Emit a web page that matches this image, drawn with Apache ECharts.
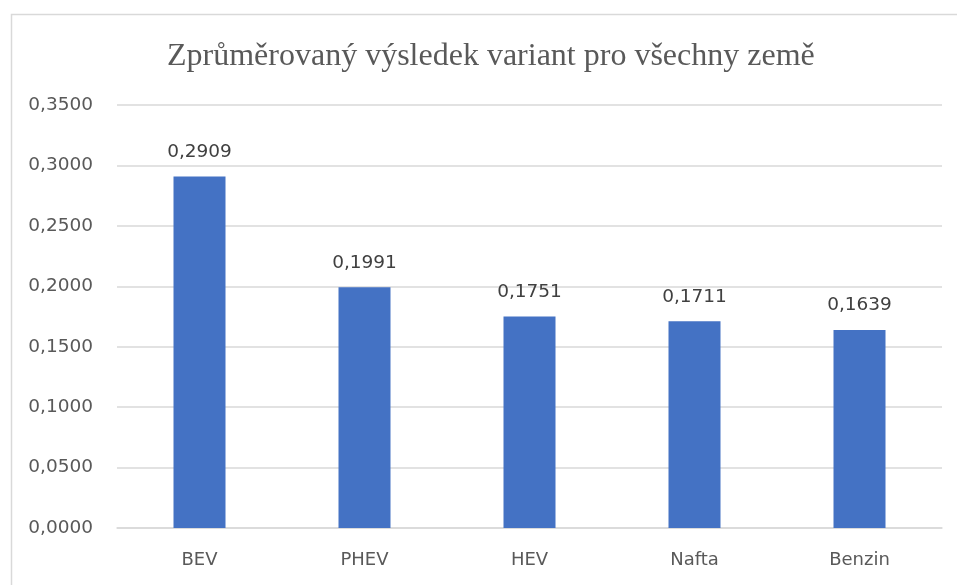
<!DOCTYPE html>
<html>
<head>
<meta charset="utf-8">
<script src="https://cdn.jsdelivr.net/npm/echarts@6/dist/echarts.min.js"></script>
<style>
html,body{margin:0;padding:0;background:#fff;}
#chart{width:957px;height:585px;}
</style>
</head>
<body>
<div id="chart"></div>
<script>
const titleText = 'Zprůměrovaný výsledek variant pro všechny země';
const categories = ['BEV', 'PHEV', 'HEV', 'Nafta', 'Benzin'];
const values = [0.2909, 0.1991, 0.1751, 0.1711, 0.1639];
const yTicks = [0, 0.05, 0.1, 0.15, 0.2, 0.25, 0.3, 0.35];

const fmt = v => v.toFixed(4).replace('.', ',');
const chart = echarts.init(document.getElementById('chart'), null, {renderer: 'canvas'});
chart.setOption({
  animation: false,
  backgroundColor: '#fff',
  graphic: [{
    type: 'rect',
    shape: {x: 11.5, y: 14.5, width: 1000, height: 700},
    style: {fill: 'none', stroke: '#d9d9d9', lineWidth: 1.5},
    silent: true
  }],
  title: {
    text: titleText,
    left: 162,
    top: 36,
    textStyle: {fontFamily: 'Liberation Serif', fontSize: 32, fontWeight: 'normal', color: '#595959'}
  },
  grid: {left: 117, right: 15, top: 105, bottom: 57},
  xAxis: {
    type: 'category',
    data: categories,
    axisLine: {lineStyle: {color: '#d9d9d9', width: 1.5}},
    axisTick: {show: false},
    axisLabel: {fontFamily: 'DejaVu Sans', fontSize: 18, color: '#595959', margin: 23}
  },
  yAxis: {
    type: 'value',
    min: yTicks[0],
    max: yTicks[yTicks.length - 1],
    interval: 0.05,
    axisLine: {show: false},
    axisTick: {show: false},
    splitLine: {lineStyle: {color: '#d9d9d9', width: 1.5}},
    axisLabel: {fontFamily: 'DejaVu Sans', fontSize: 18.5, color: '#595959', margin: 24, formatter: v => fmt(v)}
  },
  series: [{
    type: 'bar',
    data: values,
    barWidth: 52,
    itemStyle: {color: '#4472c4'},
    label: {
      show: true,
      position: 'top',
      distance: 15,
      fontFamily: 'DejaVu Sans',
      fontSize: 18.5,
      color: '#404040',
      formatter: p => fmt(p.value)
    }
  }]
});
</script>
</body>
</html>
